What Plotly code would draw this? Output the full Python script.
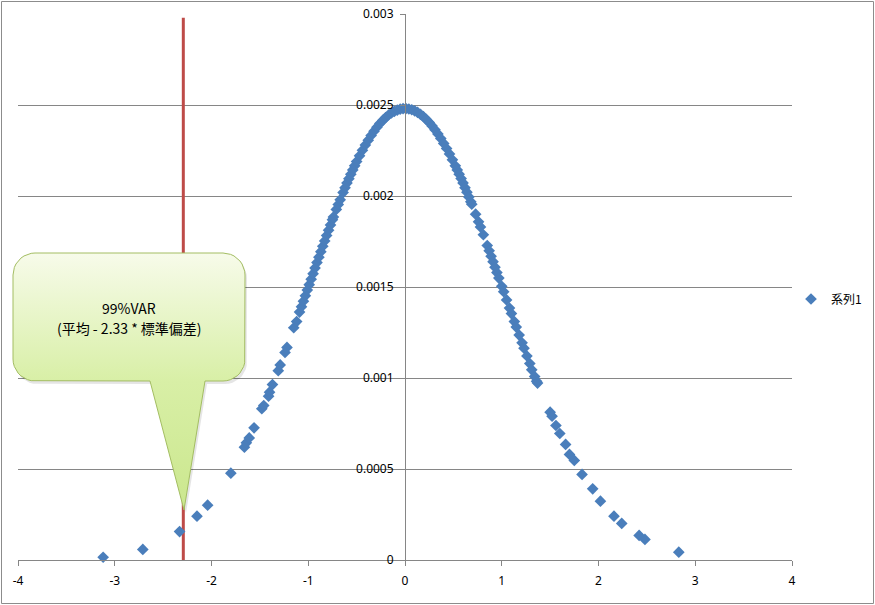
import numpy as np
import plotly.graph_objects as go

# ---- data -------------------------------------------------------------
SERIES_NAME = "系列1"

# sampled returns (x, in standard deviations) and their density values (y)
x_vals = [
    -3.12, -2.71, -2.33, -2.15, -2.04, -1.80, -1.66, -1.64, -1.61, -1.56,
    -1.48, -1.46, -1.41, -1.40, -1.37, -1.31, -1.29, -1.24, -1.22, -1.15,
    -1.12, -1.09, -1.07, -1.05, -1.03, -1.01, -0.99, -0.97, -0.95, -0.93,
    -0.91, -0.89, -0.87, -0.85, -0.83, -0.81, -0.79, -0.77, -0.75, -0.74,
    -0.71, -0.69, -0.67, -0.64, -0.62, -0.60, -0.58, -0.56, -0.54, -0.52,
    -0.50, -0.47, -0.44, -0.41, -0.38, -0.35, -0.32, -0.29, -0.26, -0.23,
    -0.20, -0.17, -0.14, -0.11, -0.08, -0.05, -0.02, 0.01, 0.04, 0.07,
    0.10, 0.13, 0.16, 0.19, 0.22, 0.25, 0.28, 0.31, 0.34, 0.37,
    0.40, 0.43, 0.46, 0.49, 0.52, 0.54, 0.56, 0.58, 0.60, 0.62,
    0.64, 0.66, 0.68, 0.69, 0.73, 0.76, 0.78, 0.81, 0.85, 0.87,
    0.89, 0.91, 0.93, 0.95, 0.97, 1.00, 1.02, 1.05, 1.08, 1.10,
    1.13, 1.15, 1.18, 1.21, 1.23, 1.26, 1.29, 1.31, 1.34, 1.36,
    1.37, 1.50, 1.52, 1.56, 1.60, 1.66, 1.70, 1.75, 1.83, 1.94,
    2.02, 2.16, 2.24, 2.42, 2.48, 2.83,
]
y_vals = [
    0.000015, 0.000058, 0.000156, 0.000241, 0.000301, 0.000477, 0.000620, 0.000644, 0.000671, 0.000726,
    0.000831, 0.000849, 0.000900, 0.000922, 0.000964, 0.001040, 0.001072, 0.001140, 0.001168, 0.001276,
    0.001310, 0.001362, 0.001392, 0.001422, 0.001452, 0.001483, 0.001513, 0.001543, 0.001573, 0.001604,
    0.001634, 0.001664, 0.001694, 0.001724, 0.001753, 0.001783, 0.001812, 0.001841, 0.001870, 0.001884,
    0.001926, 0.001953, 0.001979, 0.002019, 0.002045, 0.002071, 0.002095, 0.002119, 0.002143, 0.002166,
    0.002189, 0.002221, 0.002251, 0.002280, 0.002307, 0.002333, 0.002356, 0.002378, 0.002398, 0.002415,
    0.002431, 0.002445, 0.002456, 0.002465, 0.002472, 0.002477, 0.002480, 0.002480, 0.002478, 0.002474,
    0.002468, 0.002459, 0.002449, 0.002436, 0.002421, 0.002404, 0.002385, 0.002364, 0.002341, 0.002316,
    0.002289, 0.002261, 0.002231, 0.002199, 0.002166, 0.002143, 0.002120, 0.002096, 0.002072, 0.002046,
    0.002021, 0.001995, 0.001968, 0.001955, 0.001900, 0.001858, 0.001830, 0.001787, 0.001728, 0.001699,
    0.001669, 0.001639, 0.001609, 0.001579, 0.001549, 0.001504, 0.001474, 0.001429, 0.001384, 0.001354,
    0.001310, 0.001280, 0.001236, 0.001193, 0.001164, 0.001121, 0.001079, 0.001045, 0.001008, 0.000982,
    0.000972, 0.000812, 0.000790, 0.000739, 0.000695, 0.000635, 0.000580, 0.000547, 0.000470, 0.000391,
    0.000323, 0.000241, 0.000201, 0.000135, 0.000113, 0.000043,
]

x_ticks = [-4, -3, -2, -1, 0, 1, 2, 3, 4]
x_tick_labels = ["-4", "-3", "-2", "-1", "0", "1", "2", "3", "4"]
y_ticks = [0, 0.0005, 0.001, 0.0015, 0.002, 0.0025, 0.003]
y_tick_labels = ["0", "0.0005", "0.001", "0.0015", "0.002", "0.0025", "0.003"]

# 99% VaR threshold: sample mean - 2.33 * sample standard deviation
Z_99 = 2.33
SAMPLE_MEAN = 0.02
SAMPLE_SD = 0.992
VAR_X = SAMPLE_MEAN - Z_99 * SAMPLE_SD
VAR_LINE_TOP = 0.00298

# ---- geometry ---------------------------------------------------------
W, H = 875, 605
PL, PR, PT, PB = 18, 792, 14, 560          # plot area in pixels
Y_AXIS_PX = (PL + PR) / 2                  # vertical axis sits at x = 0

GRID = "#868686"
BLUE = "#4a7ebb"
RED = "#be4b48"
CJK = "Noto Sans CJK JP"


def callout_outline(left, top, right, bottom, r, base_l, base_r, tip, dx=0, dy=0):
    """Rounded box with a downward pointer, in pixel coordinates (y down)."""
    def arc(cx, cy, a0, a1, n=10):
        t = np.radians(np.linspace(a0, a1, n))
        return list(cx + r * np.cos(t)), list(cy + r * np.sin(t))

    xs, ys = [], []
    for seg in [
        arc(right - r, top + r, -90, 0),
        arc(right - r, bottom - r, 0, 90),
        ([base_r, tip[0], base_l], [bottom, tip[1], bottom]),
        arc(left + r, bottom - r, 90, 180),
        arc(left + r, top + r, 180, 270),
    ]:
        xs += list(seg[0])
        ys += list(seg[1])
    xs.append(xs[0])
    ys.append(ys[0])
    return [v + dx for v in xs], [v + dy for v in ys]


fig = go.Figure()

# VaR threshold line
fig.add_trace(go.Scatter(
    x=[VAR_X, VAR_X], y=[0, VAR_LINE_TOP], mode="lines",
    line=dict(color=RED, width=3), showlegend=False, hoverinfo="skip",
))

# density points
fig.add_trace(go.Scatter(
    x=x_vals, y=y_vals, mode="markers", name=SERIES_NAME,
    marker=dict(symbol="diamond", size=9, color=BLUE, line=dict(width=0)),
    cliponaxis=False,
))

# callout bubble (drawn on a pixel-scaled overlay)
box = dict(left=13, top=253, right=245, bottom=381, r=22,
           base_l=150, base_r=205, tip=(184, 510))
sx, sy = callout_outline(**box, dx=2, dy=3)
fig.add_trace(go.Scatter(
    x=sx, y=sy, xaxis="x2", yaxis="y2", mode="lines", fill="toself",
    fillcolor="rgba(0,0,0,0.10)", line=dict(width=0),
    showlegend=False, hoverinfo="skip",
))
cx, cy = callout_outline(**box)
fig.add_trace(go.Scatter(
    x=cx, y=cy, xaxis="x2", yaxis="y2", mode="lines", fill="toself",
    fillgradient=dict(
        type="vertical", start=box["top"], stop=box["tip"][1],
        colorscale=[[0, "#f7fbea"], [0.5, "#d8efa6"], [1, "#cbe78e"]],
    ),
    line=dict(color="#a3bd62", width=1),
    showlegend=False, hoverinfo="skip",
))

label_x = (box["left"] + box["right"]) / 2
fig.add_annotation(x=label_x, y=308, xref="x2", yref="y2", text="99%VAR",
                   showarrow=False, font=dict(family=CJK, size=14, color="#000000"))
fig.add_annotation(x=label_x, y=328, xref="x2", yref="y2",
                   text=f"(平均 - {Z_99} * 標準偏差)",
                   showarrow=False, font=dict(family=CJK, size=14, color="#000000"))

# outer chart frame
fig.add_shape(type="rect", xref="paper", yref="paper",
              x0=1.5 / W, x1=(W - 1.5) / W, y0=1.5 / H, y1=(H - 1.5) / H,
              line=dict(color="#8c8c8c", width=1), fillcolor="rgba(0,0,0,0)")

tick_font = dict(family="Noto Sans", size=12, color="#000000")

fig.update_layout(
    template="none",
    width=W, height=H,
    margin=dict(l=0, r=0, t=0, b=0),
    paper_bgcolor="#ffffff",
    plot_bgcolor="rgba(0,0,0,0)",
    font=dict(family=CJK, size=11, color="#000000"),
    xaxis=dict(
        domain=[PL / W, PR / W], range=[-4, 4], anchor="y",
        tickmode="array", tickvals=x_ticks, ticktext=x_tick_labels,
        showgrid=False, zeroline=False, showline=True,
        linecolor=GRID, linewidth=1, ticks="outside", ticklen=5,
        tickcolor=GRID, tickfont=tick_font, ticklabelstandoff=5,
        automargin=False,
    ),
    yaxis=dict(
        domain=[(H - PB) / H, (H - PT) / H], range=[0, 0.003],
        anchor="free", position=Y_AXIS_PX / W,
        tickmode="array", tickvals=y_ticks, ticktext=y_tick_labels,
        showgrid=True, gridcolor=GRID, gridwidth=1, zeroline=False,
        showline=True, linecolor=GRID, linewidth=1, ticks="outside",
        ticklen=5, tickcolor=GRID, tickfont=tick_font, ticklabelstandoff=4,
        automargin=False,
    ),
    xaxis2=dict(domain=[0, 1], range=[0, W], anchor="y2", visible=False),
    yaxis2=dict(domain=[0, 1], range=[H, 0], anchor="x2", visible=False),
    legend=dict(x=791 / W, y=(H - 299) / H, xanchor="left", yanchor="middle",
                font=dict(family=CJK, size=12, color="#000000"),
                bgcolor="rgba(0,0,0,0)", borderwidth=0),
    showlegend=True,
)

fig.write_html("out.html")
